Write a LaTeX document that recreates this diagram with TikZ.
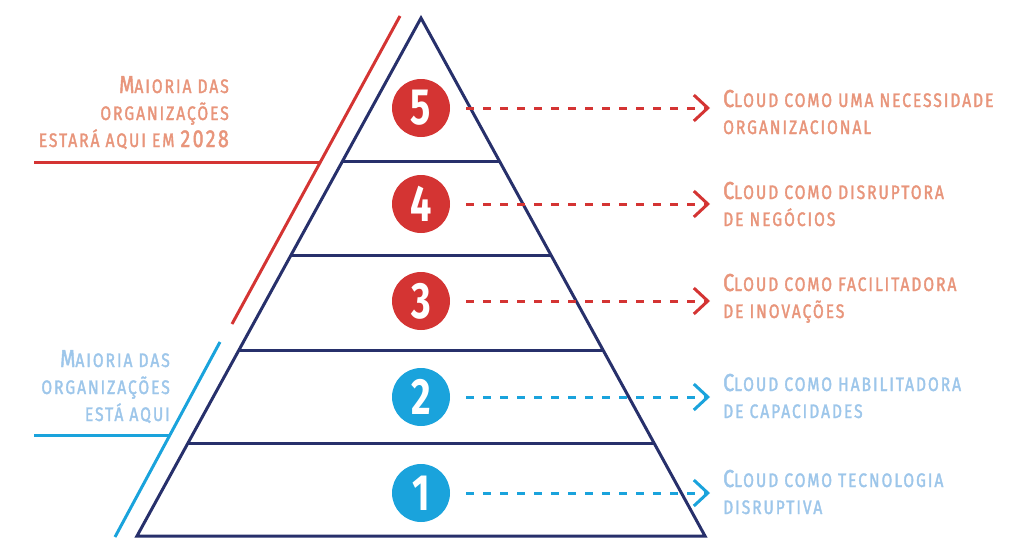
\documentclass[tikz,border=0pt]{standalone}
\usepackage{fontspec}
\setmainfont{Fira Sans}[FakeStretch=0.8, LetterSpace=10, FakeBold=1.8]
\newfontfamily\numfont{Fira Sans}[FakeStretch=0.74]
\usetikzlibrary{arrows.meta}
\definecolor{navy}{HTML}{27306B}
\definecolor{cred}{HTML}{D43433}
\definecolor{salmon}{HTML}{E8957B}
\definecolor{cblue}{HTML}{1AA3DC}
\definecolor{lblue}{HTML}{9DC6EA}
\newcommand\Lc[1]{{\fontsize{24.5}{27}\selectfont #1}}
\tikzset{
  lab/.style={inner sep=0pt, font=\fontsize{19.5}{27}\selectfont, align=left, anchor=base west},
  llab/.style={inner sep=0pt, font=\fontsize{19.5}{27}\selectfont, align=right, anchor=base east},
  numc/.style={circle, inner sep=0pt, minimum size=58pt, text=white, font=\numfont\bfseries\fontsize{51}{51}\selectfont},
  redc/.style={numc, fill=cred},
  bluec/.style={numc, fill=cblue},
  darr/.style={line width=3pt, dash pattern=on 8pt off 9pt, shorten <=16pt, shorten >=13pt,
     -{Straight Barb[length=14pt,width=26pt,line width=3pt]}},
  tri/.style={navy, line width=3pt}
}
\begin{document}
\begin{tikzpicture}[x=1pt,y=-1pt]
\useasboundingbox (0,0) rectangle (1024,554);
% pyramid
\draw[tri, line join=miter] (421,18) -- (705,536) -- (137,536) -- cycle;
\draw[tri] (342.6,161) -- (499.4,161);
\draw[tri] (291.1,255) -- (550.9,255);
\draw[tri] (239,350) -- (603,350);
\draw[tri] (188,443) -- (654,443);
% side markers
\draw[cred, line width=3pt] (400,16) -- (232,324);
\draw[cred, line width=3pt] (34,162) -- (320,162);
\draw[cblue, line width=3pt] (220,342) -- (115,537);
\draw[cblue, line width=3pt] (34,435) -- (170,435);
% left labels
\node[llab, text=salmon] (lr) at (229,147) {\Lc{M}AIORIA DAS\\ORGANIZAÇÕES\\ESTARÁ AQUI EM \Lc{2028}};
\node[llab, text=lblue] (lb) at (170,421) {\Lc{M}AIORIA DAS\\ORGANIZAÇÕES\\ESTÁ AQUI};
% circles
\node[redc] (c5) at (421,108) {5};
\node[redc] (c4) at (421,204) {4};
\node[redc] (c3) at (421,301) {3};
\node[bluec] (c2) at (421,397) {2};
\node[bluec] (c1) at (421,493) {1};
% right labels
\node[lab, text=salmon] (l5) at (723,134) {\Lc{C}LOUD COMO UMA NECESSIDADE\\ORGANIZACIONAL};
\node[lab, text=salmon] (l4) at (723,226) {\Lc{C}LOUD COMO DISRUPTORA\\DE NEGÓCIOS};
\node[lab, text=salmon] (l3) at (723,318) {\Lc{C}LOUD COMO FACILITADORA\\DE INOVAÇÕES};
\node[lab, text=lblue] (l2) at (723,418) {\Lc{C}LOUD COMO HABILITADORA\\DE CAPACIDADES};
\node[lab, text=lblue] (l1) at (723,514) {\Lc{C}LOUD COMO TECNOLOGIA\\DISRUPTIVA};
% arrows
\draw[darr, cred] (c5) -- (c5 -| l5.west);
\draw[darr, cred] (c4) -- (c4 -| l4.west);
\draw[darr, cred] (c3) -- (c3 -| l3.west);
\draw[darr, cblue] (c2) -- (c2 -| l2.west);
\draw[darr, cblue] (c1) -- (c1 -| l1.west);
\end{tikzpicture}
\end{document}
